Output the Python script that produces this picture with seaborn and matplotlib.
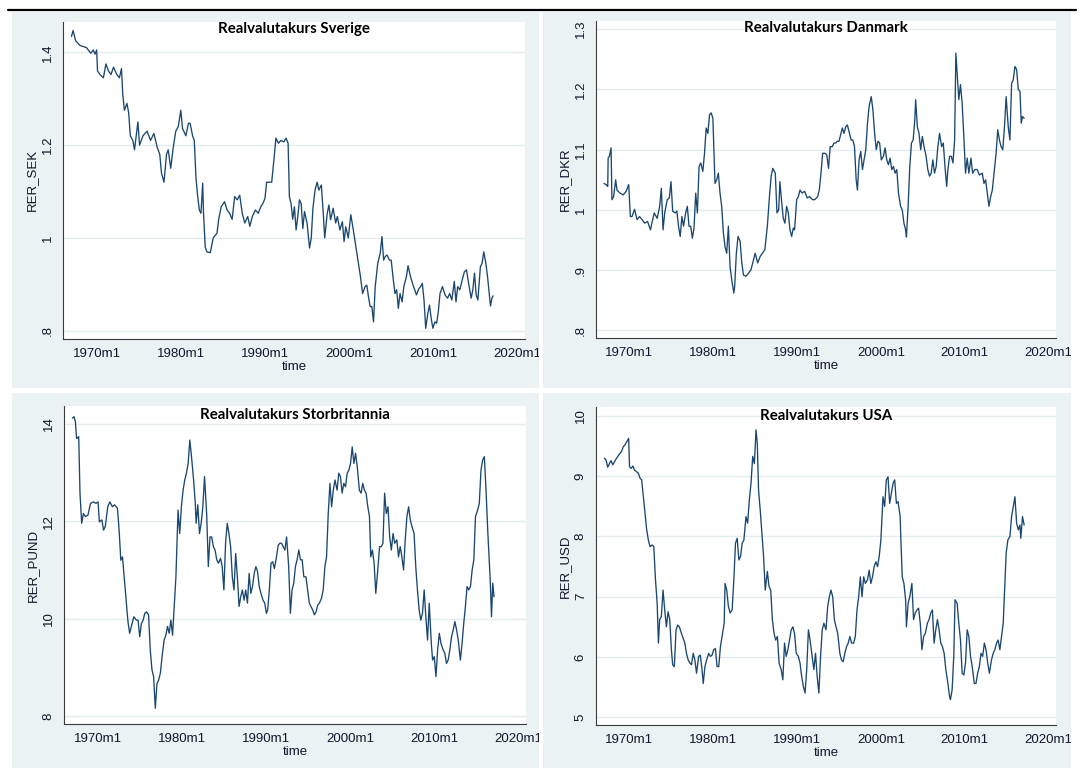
import matplotlib.pyplot as plt
import seaborn as sns
from matplotlib.patches import Rectangle
from matplotlib.lines import Line2D
from matplotlib.transforms import Bbox, TransformedBbox

W, H = 1082, 771
LINE_COLOR = "#1A476F"
PANEL_BG = "#EAF2F3"
GRID_COLOR = "#E3ECEE"
TEXT_COLOR = "#15152e"

# --- data (time in decimal years) ---
sek_t = [1967.0, 1967.2, 1967.5, 1968.0, 1968.8, 1969.3, 1969.6, 1969.8, 1970.0, 1970.1,
         1970.4, 1970.8, 1971.1, 1971.4, 1971.7, 1972.0, 1972.4, 1972.7, 1972.95, 1973.1,
         1973.3, 1973.6, 1973.8, 1974.0, 1974.3, 1974.5, 1974.9, 1975.1, 1975.5, 1976.0,
         1976.4, 1976.8, 1977.2, 1977.5, 1977.7, 1978.0, 1978.3, 1978.5, 1978.8, 1979.1,
         1979.4, 1979.7, 1980.0, 1980.2, 1980.6, 1980.9, 1981.1, 1981.4, 1981.6, 1981.8,
         1982.0, 1982.2, 1982.4, 1982.6, 1982.7, 1982.9, 1983.1, 1983.5, 1983.85, 1984.3,
         1984.5, 1984.8, 1985.2, 1985.5, 1985.8, 1986.1, 1986.4, 1986.7, 1987.0, 1987.3,
         1987.6, 1987.95, 1988.2, 1988.5, 1988.85, 1989.2, 1989.5, 1989.75, 1990.0, 1990.2,
         1990.5, 1990.8, 1991.1, 1991.3, 1991.6, 1991.9, 1992.25, 1992.5, 1992.75, 1992.9,
         1993.1, 1993.3, 1993.5, 1993.7, 1993.9, 1994.1, 1994.3, 1994.5, 1994.7, 1995.0,
         1995.3, 1995.5, 1995.7, 1995.95, 1996.2, 1996.4, 1996.7, 1996.95, 1997.1, 1997.4,
         1997.6, 1997.8, 1998.1, 1998.4, 1998.6, 1998.9, 1999.2, 1999.4, 1999.6, 1999.9,
         2000.2, 2000.5, 2000.8, 2001.1, 2001.35, 2001.6, 2001.9, 2002.1, 2002.3, 2002.5,
         2002.7, 2002.9, 2003.1, 2003.4, 2003.7, 2003.9, 2004.1, 2004.3, 2004.5, 2004.8,
         2005.0, 2005.25, 2005.45, 2005.65, 2005.85, 2006.05, 2006.3, 2006.5, 2006.8, 2007.0,
         2007.3, 2007.6, 2007.8, 2008.0, 2008.3, 2008.5, 2008.7, 2008.9, 2009.1, 2009.35,
         2009.55, 2009.75, 2009.95, 2010.2, 2010.4, 2010.6, 2010.8, 2011.1, 2011.4, 2011.7,
         2011.95, 2012.2, 2012.5, 2012.7, 2012.9, 2013.15, 2013.45, 2013.7, 2013.95, 2014.2,
         2014.5, 2014.7, 2014.9, 2015.1, 2015.3, 2015.6, 2015.8, 2016.0, 2016.25, 2016.45,
         2016.65, 2016.8, 2016.97, 2017.1]
sek_v = [1.434, 1.447, 1.425, 1.415, 1.41, 1.398, 1.405, 1.396, 1.405, 1.36,
         1.352, 1.345, 1.375, 1.36, 1.352, 1.368, 1.352, 1.345, 1.365, 1.31,
         1.275, 1.29, 1.27, 1.22, 1.21, 1.19, 1.25, 1.20, 1.22, 1.23,
         1.21, 1.225, 1.195, 1.18, 1.14, 1.12, 1.18, 1.19, 1.15, 1.195,
         1.23, 1.24, 1.275, 1.236, 1.22, 1.247, 1.247, 1.22, 1.21, 1.13,
         1.09, 1.06, 1.053, 1.118, 1.053, 0.98, 0.97, 0.968, 1.0, 1.01,
         1.04, 1.067, 1.078, 1.06, 1.053, 1.04, 1.089, 1.082, 1.092, 1.053,
         1.032, 1.046, 1.025, 1.046, 1.06, 1.053, 1.067, 1.074, 1.085, 1.12,
         1.12, 1.12, 1.175, 1.215, 1.204, 1.21, 1.207, 1.215, 1.204, 1.089,
         1.074, 1.04, 1.067, 1.017, 1.046, 1.082, 1.074, 1.02, 1.057, 1.032,
         0.978, 1.0, 1.064, 1.103, 1.12, 1.103, 1.114, 1.046, 1.0, 1.053,
         1.071, 1.039, 1.064, 1.032, 1.046, 1.017, 1.035, 0.992, 1.024, 1.0,
         1.05, 1.017, 0.981, 0.945, 0.916, 0.88, 0.895, 0.898, 0.873, 0.852,
         0.852, 0.819, 0.895, 0.945, 0.967, 1.003, 0.952, 0.96, 0.963, 0.952,
         0.952, 0.91, 0.88, 0.888, 0.848, 0.88, 0.862, 0.895, 0.916, 0.94,
         0.916, 0.898, 0.888, 0.877, 0.891, 0.895, 0.902, 0.866, 0.805, 0.837,
         0.855, 0.827, 0.805, 0.819, 0.816, 0.841, 0.88, 0.895, 0.877, 0.87,
         0.88, 0.866, 0.906, 0.862, 0.895, 0.888, 0.91, 0.927, 0.931, 0.902,
         0.87, 0.888, 0.924, 0.877, 0.866, 0.938, 0.945, 0.97, 0.945, 0.916,
         0.88, 0.853, 0.87, 0.875]

dkr_t = [1966.95, 1967.2, 1967.4, 1967.45, 1967.6, 1967.8, 1967.9, 1968.1, 1968.35, 1968.5,
         1968.85, 1969.25, 1969.6, 1969.9, 1970.1, 1970.3, 1970.6, 1970.9, 1971.2, 1971.5,
         1971.8, 1972.15, 1972.5, 1972.65, 1972.95, 1973.3, 1973.6, 1973.8, 1974.0, 1974.2,
         1974.5, 1974.75, 1974.95, 1975.15, 1975.45, 1975.65, 1975.85, 1976.05, 1976.25, 1976.45,
         1976.7, 1976.9, 1977.1, 1977.3, 1977.5, 1977.7, 1977.9, 1978.1, 1978.3, 1978.5,
         1978.75, 1978.95, 1979.15, 1979.35, 1979.55, 1979.75, 1979.95, 1980.2, 1980.4, 1980.6,
         1980.8, 1981.0, 1981.2, 1981.4, 1981.6, 1981.8, 1982.0, 1982.2, 1982.45, 1982.55,
         1982.75, 1982.95, 1983.2, 1983.4, 1983.6, 1983.9, 1984.2, 1984.5, 1984.8, 1985.0,
         1985.3, 1985.6, 1985.85, 1986.15, 1986.45, 1986.7, 1986.9, 1987.1, 1987.4, 1987.6,
         1987.8, 1987.95, 1988.1, 1988.35, 1988.55, 1988.75, 1988.95, 1989.15, 1989.35, 1989.55,
         1989.7, 1989.95, 1990.15, 1990.35, 1990.6, 1990.9, 1991.2, 1991.5, 1991.85, 1992.1,
         1992.45, 1992.65, 1992.85, 1993.05, 1993.35, 1993.55, 1993.75, 1993.95, 1994.2, 1994.4,
         1994.6, 1994.8, 1995.0, 1995.2, 1995.4, 1995.6, 1995.8, 1996.0, 1996.2, 1996.45,
         1996.65, 1996.85, 1997.05, 1997.2, 1997.4, 1997.6, 1997.8, 1998.0, 1998.2, 1998.4,
         1998.6, 1998.85, 1999.05, 1999.25, 1999.45, 1999.65, 1999.85, 2000.05, 2000.3, 2000.5,
         2000.7, 2000.9, 2001.1, 2001.3, 2001.5, 2001.7, 2001.9, 2002.1, 2002.35, 2002.55,
         2002.75, 2002.95, 2003.05, 2003.25, 2003.45, 2003.65, 2003.85, 2004.05, 2004.15, 2004.35,
         2004.55, 2004.75, 2004.95, 2005.15, 2005.4, 2005.6, 2005.8, 2006.0, 2006.2, 2006.4,
         2006.6, 2006.8, 2007.0, 2007.25, 2007.45, 2007.65, 2007.85, 2008.0, 2008.2, 2008.4,
         2008.6, 2008.8, 2008.95, 2009.1, 2009.3, 2009.5, 2009.7, 2009.9, 2010.1, 2010.3,
         2010.5, 2010.75, 2010.95, 2011.2, 2011.5, 2011.75, 2012.1, 2012.3, 2012.5, 2012.7,
         2012.9, 2013.1, 2013.3, 2013.55, 2013.75, 2013.95, 2014.15, 2014.35, 2014.55, 2014.75,
         2014.95, 2015.2, 2015.4, 2015.6, 2015.8, 2016.0, 2016.2, 2016.4, 2016.6, 2016.75,
         2016.9, 2017.1]
dkr_v = [1.044, 1.042, 1.039, 1.086, 1.089, 1.103, 1.017, 1.022, 1.05, 1.033,
         1.028, 1.025, 1.031, 1.042, 0.989, 0.989, 1.001, 0.984, 0.989, 0.984,
         0.978, 0.981, 0.967, 0.977, 0.995, 0.986, 1.006, 1.036, 0.967, 0.995,
         1.017, 1.02, 1.047, 0.998, 0.995, 0.998, 0.973, 0.956, 0.989, 0.973,
         0.995, 1.006, 0.973, 0.973, 0.953, 0.97, 1.028, 0.995, 1.072, 1.078,
         1.064, 1.094, 1.136, 1.127, 1.158, 1.161, 1.152, 1.044, 1.05, 1.061,
         1.028, 1.006, 0.962, 0.939, 0.928, 0.973, 0.906, 0.884, 0.862, 0.873,
         0.928, 0.956, 0.948, 0.912, 0.892, 0.89, 0.895, 0.901, 0.917, 0.928,
         0.912, 0.923, 0.928, 0.934, 0.973, 1.022, 1.056, 1.069, 1.061, 0.995,
         1.0, 1.047, 1.022, 0.986, 0.978, 1.006, 0.995, 0.967, 0.956, 0.97,
         0.967, 1.017, 1.022, 1.033, 1.028, 1.031, 1.02, 1.022, 1.017, 1.017,
         1.022, 1.033, 1.061, 1.094, 1.094, 1.091, 1.069, 1.105, 1.105, 1.111,
         1.111, 1.114, 1.114, 1.125, 1.136, 1.127, 1.138, 1.141, 1.13, 1.116,
         1.116, 1.105, 1.05, 1.033, 1.083, 1.097, 1.067, 1.083, 1.1, 1.144,
         1.172, 1.188, 1.166, 1.127, 1.1, 1.114, 1.111, 1.083, 1.089, 1.103,
         1.083, 1.075, 1.086, 1.067, 1.072, 1.061, 1.067, 1.028, 1.006, 1.0,
         0.978, 0.967, 0.955, 1.006, 1.072, 1.111, 1.116, 1.15, 1.183, 1.138,
         1.127, 1.1, 1.122, 1.105, 1.089, 1.067, 1.056, 1.061, 1.083, 1.061,
         1.072, 1.105, 1.127, 1.105, 1.111, 1.072, 1.039, 1.067, 1.089, 1.089,
         1.078, 1.116, 1.26, 1.227, 1.183, 1.208, 1.177, 1.122, 1.061, 1.086,
         1.061, 1.086, 1.061, 1.067, 1.067, 1.058, 1.061, 1.044, 1.05, 1.028,
         1.006, 1.022, 1.033, 1.067, 1.094, 1.133, 1.116, 1.105, 1.1, 1.138,
         1.188, 1.138, 1.116, 1.21, 1.216, 1.238, 1.233, 1.2, 1.197, 1.144,
         1.155, 1.152]

pund_t = [1967.0, 1967.2, 1967.35, 1967.5, 1967.75, 1967.9, 1968.1, 1968.3, 1968.55, 1968.85,
          1969.15, 1969.5, 1969.8, 1970.05, 1970.2, 1970.5, 1970.7, 1970.9, 1971.2, 1971.45,
          1971.75, 1972.0, 1972.35, 1972.55, 1972.75, 1972.95, 1973.15, 1973.35, 1973.6, 1973.8,
          1974.0, 1974.3, 1974.6, 1974.8, 1975.0, 1975.2, 1975.4, 1975.6, 1975.8, 1976.05,
          1976.25, 1976.45, 1976.65, 1976.85, 1977.05, 1977.25, 1977.45, 1977.7, 1977.9, 1978.1,
          1978.3, 1978.5, 1978.7, 1978.9, 1979.1, 1979.3, 1979.55, 1979.75, 1979.95, 1980.15,
          1980.35, 1980.55, 1980.75, 1980.95, 1981.15, 1981.4, 1981.6, 1981.7, 1981.9, 1982.1,
          1982.3, 1982.5, 1982.7, 1982.95, 1983.15, 1983.35, 1983.55, 1983.75, 1983.95, 1984.15,
          1984.35, 1984.6, 1984.8, 1985.0, 1985.2, 1985.4, 1985.6, 1985.8, 1986.0, 1986.2,
          1986.4, 1986.65, 1986.8, 1987.0, 1987.2, 1987.4, 1987.6, 1987.8, 1988.0, 1988.2,
          1988.4, 1988.6, 1988.8, 1989.0, 1989.2, 1989.4, 1989.65, 1989.85, 1990.05, 1990.2,
          1990.4, 1990.6, 1990.8, 1991.0, 1991.25, 1991.45, 1991.65, 1991.85, 1992.05, 1992.25,
          1992.45, 1992.7, 1992.9, 1993.1, 1993.3, 1993.5, 1993.7, 1993.9, 1994.1, 1994.3,
          1994.5, 1994.75, 1994.95, 1995.15, 1995.35, 1995.55, 1995.75, 1995.95, 1996.15, 1996.35,
          1996.6, 1996.8, 1997.0, 1997.2, 1997.4, 1997.6, 1997.8, 1998.0, 1998.2, 1998.45,
          1998.65, 1998.85, 1999.05, 1999.25, 1999.45, 1999.65, 1999.85, 2000.05, 2000.25, 2000.45,
          2000.65, 2000.85, 2001.1, 2001.3, 2001.5, 2001.7, 2001.9, 2002.1, 2002.3, 2002.45,
          2002.65, 2002.85, 2003.05, 2003.25, 2003.5, 2003.7, 2003.9, 2004.1, 2004.3, 2004.5,
          2004.7, 2004.9, 2005.1, 2005.3, 2005.55, 2005.75, 2005.95, 2006.15, 2006.35, 2006.55,
          2006.75, 2006.95, 2007.15, 2007.35, 2007.6, 2007.8, 2008.0, 2008.2, 2008.4, 2008.6,
          2008.8, 2009.0, 2009.2, 2009.4, 2009.65, 2009.8, 2010.0, 2010.2, 2010.4, 2010.6,
          2010.8, 2011.05, 2011.25, 2011.45, 2011.65, 2011.85, 2012.05, 2012.25, 2012.45, 2012.65,
          2012.85, 2013.1, 2013.3, 2013.5, 2013.7, 2013.9, 2014.1, 2014.3, 2014.5, 2014.7,
          2014.9, 2015.15, 2015.35, 2015.55, 2015.75, 2015.95, 2016.15, 2016.35, 2016.55, 2016.65,
          2016.8, 2016.95, 2017.1]
pund_v = [14.12, 14.15, 14.05, 13.7, 13.74, 12.58, 11.96, 12.16, 12.1, 12.13,
          12.37, 12.4, 12.37, 12.4, 11.99, 12.03, 11.82, 11.89, 12.3, 12.4,
          12.3, 12.34, 12.27, 11.82, 11.2, 11.27, 10.86, 10.45, 9.94, 9.7,
          9.84, 10.04, 9.97, 9.97, 9.63, 9.9, 9.97, 10.11, 10.14, 10.08,
          9.36, 8.95, 8.81, 8.16, 8.67, 8.74, 8.88, 9.29, 9.56, 9.66,
          9.84, 9.7, 9.97, 9.66, 10.25, 10.86, 12.23, 11.75, 12.3, 12.64,
          12.85, 12.99, 13.19, 13.67, 13.33, 12.85, 12.37, 11.96, 12.34, 11.75,
          11.96, 12.3, 12.92, 12.16, 11.07, 11.68, 11.68, 11.48, 11.41, 11.21,
          11.14, 11.24, 11.07, 10.59, 11.55, 11.96, 11.75, 11.48, 10.86, 10.59,
          11.34, 10.73, 10.25, 10.45, 10.59, 10.38, 10.59, 10.32, 10.93, 10.52,
          10.66, 10.93, 11.07, 10.97, 10.66, 10.52, 10.38, 10.32, 10.11, 10.18,
          10.59, 11.14, 11.17, 11.03, 11.27, 11.51, 11.55, 11.55, 11.48, 11.41,
          11.68, 11.07, 10.11, 10.59, 10.73, 11.07, 11.21, 11.41, 11.21, 11.21,
          10.86, 10.86, 10.59, 10.32, 10.25, 10.18, 10.08, 10.14, 10.28, 10.32,
          10.42, 10.59, 11.07, 11.27, 12.16, 12.78, 12.3, 12.64, 12.85, 12.64,
          12.99, 12.92, 12.58, 12.78, 12.71, 12.99, 13.05, 13.19, 13.53, 13.19,
          13.4, 13.12, 12.64, 12.58, 12.78, 12.64, 12.58, 12.3, 12.1, 11.27,
          11.41, 11.14, 10.52, 10.93, 11.48, 11.48, 11.55, 12.58, 12.16, 12.3,
          11.68, 11.41, 11.75, 11.55, 11.62, 11.27, 11.48, 11.27, 11.0, 11.62,
          12.1, 12.3, 12.03, 11.89, 11.75, 11.07, 10.59, 10.18, 9.97, 10.11,
          10.59, 10.04, 9.56, 10.32, 9.49, 9.15, 9.22, 8.81, 9.36, 9.7,
          9.49, 9.36, 9.29, 9.08, 9.15, 9.36, 9.63, 9.77, 9.94, 9.77,
          9.56, 9.15, 9.49, 9.9, 10.25, 10.66, 10.59, 10.66, 11.0, 11.21,
          12.1, 12.23, 12.37, 13.05, 13.26, 13.33, 12.64, 11.82, 11.14, 10.79,
          10.04, 10.73, 10.45]

usd_t = [1967.0, 1967.2, 1967.4, 1967.6, 1967.8, 1968.0, 1968.2, 1968.45, 1968.65, 1968.85,
         1969.05, 1969.25, 1969.45, 1969.65, 1969.9, 1970.0, 1970.2, 1970.4, 1970.6, 1970.8,
         1971.05, 1971.25, 1971.45, 1971.65, 1971.85, 1972.05, 1972.25, 1972.45, 1972.7, 1972.9,
         1973.1, 1973.3, 1973.45, 1973.6, 1973.8, 1974.0, 1974.2, 1974.4, 1974.6, 1974.8,
         1975.0, 1975.15, 1975.35, 1975.55, 1975.75, 1975.95, 1976.2, 1976.4, 1976.6, 1976.8,
         1977.0, 1977.2, 1977.4, 1977.6, 1977.8, 1978.0, 1978.25, 1978.45, 1978.65, 1978.8,
         1979.0, 1979.2, 1979.45, 1979.65, 1979.85, 1980.05, 1980.25, 1980.45, 1980.65, 1980.85,
         1981.05, 1981.3, 1981.4, 1981.6, 1981.8, 1982.0, 1982.25, 1982.45, 1982.65, 1982.85,
         1983.05, 1983.25, 1983.45, 1983.65, 1983.9, 1984.1, 1984.3, 1984.5, 1984.7, 1984.9,
         1985.1, 1985.25, 1985.4, 1985.6, 1985.8, 1986.0, 1986.2, 1986.45, 1986.65, 1986.85,
         1987.05, 1987.25, 1987.45, 1987.65, 1987.85, 1988.1, 1988.3, 1988.5, 1988.7, 1988.9,
         1989.1, 1989.3, 1989.5, 1989.7, 1989.9, 1990.15, 1990.35, 1990.55, 1990.75, 1990.95,
         1991.15, 1991.35, 1991.55, 1991.8, 1992.0, 1992.2, 1992.4, 1992.6, 1992.8, 1993.0,
         1993.2, 1993.45, 1993.65, 1993.85, 1994.05, 1994.25, 1994.45, 1994.65, 1994.85, 1995.1,
         1995.3, 1995.5, 1995.7, 1995.9, 1996.1, 1996.3, 1996.5, 1996.75, 1996.95, 1997.15,
         1997.35, 1997.55, 1997.75, 1997.95, 1998.15, 1998.4, 1998.6, 1998.8, 1999.0, 1999.2,
         1999.4, 1999.6, 1999.8, 2000.0, 2000.25, 2000.45, 2000.65, 2000.85, 2001.05, 2001.25,
         2001.45, 2001.65, 2001.85, 2002.05, 2002.3, 2002.4, 2002.55, 2002.75, 2002.95, 2003.05,
         2003.25, 2003.45, 2003.7, 2003.9, 2004.1, 2004.3, 2004.5, 2004.7, 2004.9, 2005.1,
         2005.3, 2005.55, 2005.75, 2005.95, 2006.15, 2006.35, 2006.55, 2006.75, 2006.95, 2007.15,
         2007.35, 2007.55, 2007.75, 2008.0, 2008.2, 2008.3, 2008.5, 2008.7, 2008.85, 2009.1,
         2009.3, 2009.5, 2009.7, 2009.9, 2010.1, 2010.3, 2010.5, 2010.7, 2010.9, 2011.15,
         2011.35, 2011.55, 2011.75, 2011.95, 2012.15, 2012.35, 2012.55, 2012.75, 2012.95, 2013.2,
         2013.4, 2013.6, 2013.8, 2014.0, 2014.2, 2014.4, 2014.6, 2014.75, 2014.95, 2015.15,
         2015.4, 2015.6, 2015.8, 2016.0, 2016.2, 2016.4, 2016.6, 2016.7, 2016.9, 2017.1]
usd_v = [9.30, 9.27, 9.15, 9.21, 9.26, 9.19, 9.24, 9.30, 9.34, 9.38,
         9.41, 9.49, 9.52, 9.57, 9.63, 9.16, 9.13, 9.17, 9.10, 9.08,
         9.05, 8.97, 8.94, 8.66, 8.38, 8.11, 7.94, 7.83, 7.86, 7.83,
         7.28, 6.89, 6.23, 6.62, 6.67, 7.11, 6.78, 6.50, 6.75, 6.62,
         6.12, 5.87, 5.84, 6.45, 6.53, 6.50, 6.39, 6.31, 6.23, 6.06,
         5.95, 5.90, 5.87, 6.06, 5.95, 5.73, 6.01, 6.03, 5.79, 5.56,
         5.84, 5.95, 6.06, 6.01, 6.03, 6.12, 6.14, 5.84, 5.84, 6.17,
         6.34, 6.56, 7.22, 7.11, 6.84, 6.73, 6.78, 7.28, 7.89, 7.97,
         7.61, 7.67, 7.89, 7.94, 8.33, 8.22, 8.61, 8.88, 9.33, 9.21,
         9.77, 9.55, 8.77, 8.44, 8.05, 7.67, 7.11, 7.42, 7.17, 7.11,
         6.62, 6.39, 6.28, 6.34, 5.90, 5.79, 5.62, 6.23, 6.01, 6.12,
         6.28, 6.45, 6.50, 6.39, 6.06, 6.01, 5.90, 5.67, 5.51, 5.40,
         5.79, 6.45, 6.28, 6.01, 5.79, 6.06, 5.67, 5.40, 6.01, 6.45,
         6.56, 6.45, 6.84, 7.00, 7.11, 7.00, 6.62, 6.50, 6.39, 6.06,
         5.95, 5.92, 6.06, 6.17, 6.23, 6.34, 6.23, 6.23, 6.34, 6.78,
         7.00, 7.33, 7.00, 7.33, 7.22, 7.28, 7.44, 7.22, 7.33, 7.50,
         7.58, 7.50, 7.67, 7.94, 8.66, 8.50, 8.94, 8.99, 8.55, 8.72,
         8.88, 8.94, 8.55, 8.58, 8.33, 7.89, 7.33, 7.22, 6.95, 6.50,
         6.89, 7.00, 7.22, 6.62, 6.73, 6.78, 6.81, 6.56, 6.12, 6.34,
         6.39, 6.56, 6.62, 6.73, 6.78, 6.23, 6.45, 6.62, 6.45, 6.23,
         6.17, 6.06, 5.79, 5.56, 5.34, 5.29, 5.45, 6.01, 6.95, 6.89,
         6.56, 6.28, 5.73, 5.70, 5.90, 6.45, 6.34, 6.01, 5.84, 5.56,
         5.56, 5.73, 5.84, 6.06, 6.01, 6.23, 6.12, 5.90, 5.73, 5.95,
         6.06, 6.12, 6.23, 6.28, 6.12, 6.34, 6.56, 7.06, 7.72, 7.94,
         8.00, 8.33, 8.50, 8.66, 8.22, 8.11, 8.19, 7.97, 8.33, 8.19]

x_ticks = [1970, 1980, 1990, 2000, 2010, 2020]
x_tick_labels = ["1970m1", "1980m1", "1990m1", "2000m1", "2010m1", "2020m1"]

sns.set_style("white")
plt.rcParams["font.family"] = ["Liberation Sans", "DejaVu Sans"]


def px_rect(left, top, right, bottom):
    """Pixel box (origin top-left) -> figure fraction rect."""
    return [left / W, 1 - bottom / H, (right - left) / W, (bottom - top) / H]


panels = [
    dict(title="Realvalutakurs Sverige", ylabel="RER_SEK", t=sek_t, v=sek_v,
         yticks=[0.8, 1.0, 1.2, 1.4], ylabels=[".8", "1", "1.2", "1.4"],
         ylim=(0.782, 1.466), ax_px=(63, 21.7, 525, 339), bg_px=(12, 12, 539, 388),
         title_drop=11.0),
    dict(title="Realvalutakurs Danmark", ylabel="RER_DKR", t=dkr_t, v=dkr_v,
         yticks=[0.8, 0.9, 1.0, 1.1, 1.2, 1.3], ylabels=[".8", ".9", "1", "1.1", "1.2", "1.3"],
         ylim=(0.787, 1.314), ax_px=(596, 20.7, 1056, 338.3), bg_px=(543, 12, 1071, 388),
         title_drop=11.5),
    dict(title="Realvalutakurs Storbritannia", ylabel="RER_PUND", t=pund_t, v=pund_v,
         yticks=[8, 10, 12, 14], ylabels=["8", "10", "12", "14"],
         ylim=(7.836, 14.37), ax_px=(64, 406, 526, 724), bg_px=(12, 393, 539, 768),
         title_drop=13.0),
    dict(title="Realvalutakurs USA", ylabel="RER_USD", t=usd_t, v=usd_v,
         yticks=[5, 6, 7, 8, 9, 10], ylabels=["5", "6", "7", "8", "9", "10"],
         ylim=(4.87, 10.15), ax_px=(596, 407, 1056, 725), bg_px=(543, 393, 1071, 768),
         title_drop=12.5),
]

fig = plt.figure(figsize=(W / 100, H / 100), dpi=100)
fig.patch.set_facecolor("white")

# thick rule across the top
fig.add_artist(Line2D([8 / W, 1076 / W], [1 - 10 / H, 1 - 10 / H], color="black",
                      lw=1.6, transform=fig.transFigure))

for p in panels:
    l, t, r, b = p["bg_px"]
    bg_box = Bbox.from_extents(l / W, 1 - b / H, r / W, 1 - t / H)
    fig.add_artist(Rectangle((l / W, 1 - b / H), (r - l) / W, (b - t) / H,
                             transform=fig.transFigure, facecolor=PANEL_BG,
                             edgecolor="none", zorder=-10))

    ax = fig.add_axes(px_rect(*p["ax_px"]))
    ax.set_zorder(1)
    ax.set_facecolor("white")
    sns.lineplot(x=p["t"], y=p["v"], ax=ax, color=LINE_COLOR, linewidth=0.95)

    ax.set_xlim(1966.0, 2020.9)
    ax.set_ylim(*p["ylim"])
    ax.set_xticks(x_ticks)
    ax.set_xticklabels(x_tick_labels)
    ax.set_yticks(p["yticks"])
    ax.set_yticklabels(p["ylabels"], rotation=90, va="center")

    # the last tick label is cut off at the panel edge in the original
    for lbl in ax.get_xticklabels():
        lbl.set_clip_on(True)
        lbl.set_clip_box(TransformedBbox(bg_box, fig.transFigure))

    ax.yaxis.grid(True, color=GRID_COLOR, lw=1.0)
    ax.xaxis.grid(False)
    ax.set_axisbelow(True)

    for side in ("top", "right"):
        ax.spines[side].set_visible(False)
    for side in ("left", "bottom"):
        ax.spines[side].set_color("#3a3a3a")
        ax.spines[side].set_linewidth(0.8)

    ax.tick_params(axis="both", direction="out", length=3.6, width=0.8,
                   color="#3a3a3a", labelsize=9.5, labelcolor=TEXT_COLOR)
    ax.tick_params(axis="x", pad=3)
    ax.tick_params(axis="y", pad=3)

    ax.set_xlabel("time", fontsize=9.5, color=TEXT_COLOR, labelpad=0.5)
    ax.set_ylabel(p["ylabel"], fontsize=9.5, color=TEXT_COLOR, labelpad=3)

    ax_h = p["ax_px"][3] - p["ax_px"][1]
    ax.text(0.5, 1 - p["title_drop"] / ax_h, p["title"], transform=ax.transAxes,
            ha="center", va="baseline", fontsize=10.8, fontweight="bold",
            family=["Lato", "DejaVu Sans"], color="black")

fig.savefig("out.png", dpi=100, facecolor="white")
